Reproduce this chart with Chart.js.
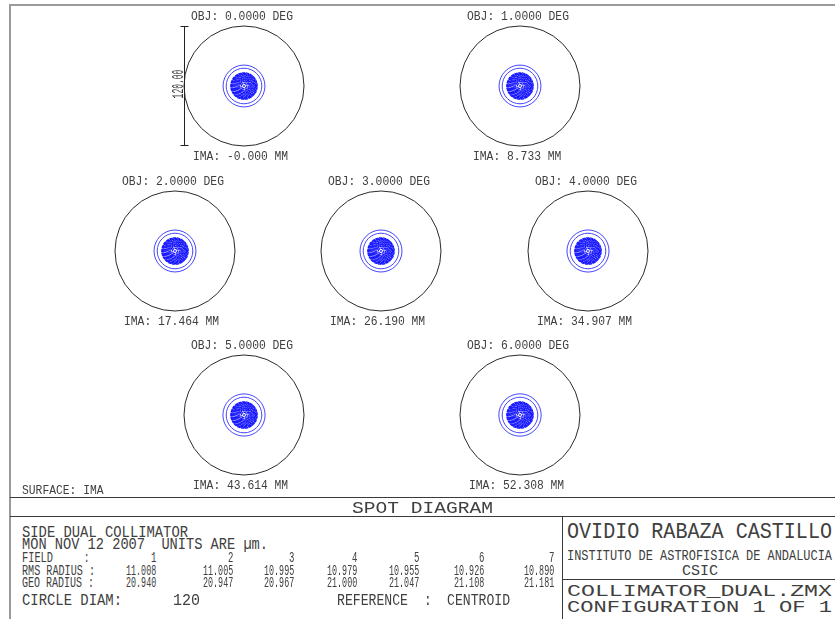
<!DOCTYPE html>
<html>
<head>
<meta charset="utf-8">
<title>Spot Diagram</title>
<script src="https://cdn.jsdelivr.net/npm/chart.js@4.4.1/dist/chart.umd.min.js"></script>
<style>
  html, body { margin: 0; padding: 0; background: #fff; }
  #sheet { position: relative; width: 835px; height: 619px; overflow: hidden; background: #fff; }
  .rule { position: absolute; background: #3a3a3a; }
  .frame { position: absolute; background: #9a9a9a; }
  .txt { position: absolute; white-space: pre; line-height: 1; color: #404040;
         font-family: "Liberation Mono", "DejaVu Sans Mono", monospace; transform-origin: 0 0; }
  canvas.spot { position: absolute; }
</style>
</head>
<body>
<div id="sheet"></div>
<script>
// ---- field data ----
const fieldNumbers = [1, 2, 3, 4, 5, 6, 7];
const fieldAngles  = [0, 1, 2, 3, 4, 5, 6];                                   // OBJ, degrees
const imageHeights = ['-0.000', '8.733', '17.464', '26.190', '34.907', '43.614', '52.308']; // IMA, mm
const rmsRadius    = [11.008, 11.005, 10.995, 10.979, 10.955, 10.926, 10.890]; // µm
const geoRadius    = [20.940, 20.947, 20.967, 21.000, 21.047, 21.108, 21.181]; // µm
const circleDiam   = 120;                                                       // µm

// image-plane radii (µm) of the traced pupil zones, centre outwards
const centreZone   = 0.9;
const denseZones   = [2.6, 4.3, 5.3, 6.3, 7.2, 8.1, 9.0, 9.9, 10.8, 11.7, 12.5, 13.2];
const marginalZone = 17.8;

// ---- page layout (pixels) ----
const layout = {
  box: 160,                                   // canvas size per spot panel, ±80 µm
  centers: [[244, 86], [520, 86], [175, 251], [381, 251], [588, 251], [244, 415], [520, 415]],
  objDy: -70, imaDy: 70,
  colRight: [156, 233, 294, 357, 419, 484, 554],
  rows: { field: 557.5, rms: 570.5, geo: 582.5, circle: 600 }
};

const sheet = document.getElementById('sheet');

function rule(cls, x, y, w, h) {
  const d = document.createElement('div');
  d.className = cls;
  Object.assign(d.style, { left: x + 'px', top: y + 'px', width: w + 'px', height: h + 'px' });
  sheet.appendChild(d);
}

// text placed by cap-centre y; optionally stretched to a given width
function put(text, o) {
  const el = document.createElement('div');
  el.className = 'txt';
  el.textContent = text;
  el.style.fontSize = o.size + 'px';
  sheet.appendChild(el);
  const w = el.getBoundingClientRect().width;
  const sx = o.width ? o.width / w : (o.sx || 1);
  const vw = w * sx;
  let left = o.x;
  if (o.align === 'center') left = o.x - vw / 2;
  else if (o.align === 'right') left = o.x - vw;
  el.style.left = left + 'px';
  el.style.top = (o.y - o.size * 0.44) + 'px';
  el.style.transform = 'scaleX(' + sx + ')';
}

// ---- frame and title block rules ----
rule('frame', 9, 4, 826, 2);
rule('frame', 9, 4, 2, 615);
rule('rule', 10, 497, 825, 1);
rule('rule', 10, 516, 825, 1);
rule('rule', 562, 516, 1, 103);
rule('rule', 562, 579, 273, 1);

// ---- spot panels ----
// per-dataset dash pattern, so ray dots along a zone show as a broken ring
const dashPlugin = {
  id: 'zoneDash',
  beforeDatasetDraw(chart, args) {
    const ds = chart.data.datasets[args.index];
    chart.ctx.save();
    chart.ctx.setLineDash(ds.dash || []);
    chart.ctx.lineDashOffset = ds.dashOffset || 0;
  },
  afterDatasetDraw(chart) { chart.ctx.restore(); }
};

const scaleBarPlugin = {
  id: 'scaleBar',
  afterDraw(chart) {
    const { ctx, scales: { x, y } } = chart;
    const h = circleDiam / 2;
    const bx = Math.round(x.getPixelForValue(-h)) + 0.5;
    const y0 = y.getPixelForValue(h), y1 = y.getPixelForValue(-h);
    ctx.save();
    ctx.strokeStyle = '#222';
    ctx.lineWidth = 1;
    ctx.beginPath();
    ctx.moveTo(bx, y0); ctx.lineTo(bx, y1);
    ctx.moveTo(bx - 4, Math.round(y0) + 0.5); ctx.lineTo(bx + 4, Math.round(y0) + 0.5);
    ctx.moveTo(bx - 4, Math.round(y1) - 0.5); ctx.lineTo(bx + 4, Math.round(y1) - 0.5);
    ctx.stroke();
    ctx.translate(bx - 1.5, (y0 + y1) / 2 - 2);
    ctx.rotate(-Math.PI / 2);
    ctx.scale(0.5, 1);
    ctx.fillStyle = '#333';
    ctx.font = '16px "Liberation Mono", monospace';
    ctx.textAlign = 'center';
    ctx.textBaseline = 'alphabetic';
    ctx.fillText(circleDiam.toFixed(2), 0, 0);
    ctx.restore();
  }
};

function zonePx(ctx) {
  const s = ctx.chart.scales.x;
  return Math.abs(s.getPixelForValue(ctx.raw.rUm) - s.getPixelForValue(0));
}
const zone = r => ({ x: 0, y: 0, rUm: r });

function spotPanel(i) {
  const [cx, cy] = layout.centers[i];
  const half = layout.box / 2;
  const c = document.createElement('canvas');
  c.className = 'spot';
  c.width = layout.box; c.height = layout.box;
  c.style.left = (cx - half) + 'px';
  c.style.top = (cy - half) + 'px';
  sheet.appendChild(c);

  const datasets = [
    { label: 'centre', data: [zone(centreZone)], pointBackgroundColor: '#1c1cff', pointBorderWidth: 0 }
  ];
  denseZones.forEach((r, j) => datasets.push({
    label: 'zone ' + (j + 1), data: [zone(r)], pointBorderColor: '#1616ff',
    pointBorderWidth: 1.25, dash: [3.4, 0.55], dashOffset: (j * 1.37) % 3.9
  }));
  datasets.push({ label: 'marginal', data: [zone(marginalZone), zone(geoRadius[i])],
                  pointBorderColor: '#4646ff', pointBorderWidth: 1 });
  datasets.push({ label: 'reference circle', data: [zone(circleDiam / 2)],
                  pointBorderColor: '#2a2a2a', pointBorderWidth: 1 });

  new Chart(c, {
    type: 'scatter',
    data: { datasets },
    options: {
      responsive: false,
      animation: false,
      events: [],
      layout: { padding: 0 },
      elements: { point: { radius: zonePx, backgroundColor: 'rgba(0,0,0,0)', hoverRadius: zonePx } },
      scales: {
        x: { type: 'linear', min: -half, max: half, display: false },
        y: { type: 'linear', min: -half, max: half, display: false }
      },
      plugins: { legend: { display: false }, tooltip: { enabled: false } }
    },
    plugins: i === 0 ? [dashPlugin, scaleBarPlugin] : [dashPlugin]
  });

  put('OBJ: ' + fieldAngles[i].toFixed(4) + ' DEG', { x: cx - 2, y: cy + layout.objDy, size: 12, sx: 0.944, align: 'center' });
  put('IMA: ' + imageHeights[i] + ' MM', { x: cx - 3, y: cy + layout.imaDy, size: 12, sx: 0.944, align: 'center' });
}

fieldNumbers.forEach((_, i) => spotPanel(i));

// ---- title block ----
put('SURFACE: IMA', { x: 22, y: 490, size: 12, sx: 0.944 });
put('SPOT DIAGRAM', { x: 422, y: 507, size: 17, width: 141, align: 'center' });

put('SIDE DUAL COLLIMATOR', { x: 22, y: 532, size: 16, width: 166 });
put('MON NOV 12 2007  UNITS ARE µm.', { x: 22, y: 544.5, size: 16, width: 246 });

put('FIELD', { x: 22, y: layout.rows.field, size: 15, width: 31 });
put(':', { x: 87, y: layout.rows.field, size: 15, sx: 0.6, align: 'center' });
put('RMS RADIUS :', { x: 22, y: layout.rows.rms, size: 15, width: 73 });
put('GEO RADIUS :', { x: 22, y: layout.rows.geo, size: 15, width: 72 });

fieldNumbers.forEach((n, j) => {
  const xr = layout.colRight[j];
  put(String(n), { x: xr, y: layout.rows.field, size: 15, sx: 0.6, align: 'right' });
  put(rmsRadius[j].toFixed(3), { x: xr, y: layout.rows.rms, size: 15, sx: 0.56, align: 'right' });
  put(geoRadius[j].toFixed(3), { x: xr, y: layout.rows.geo, size: 15, sx: 0.56, align: 'right' });
});

put('CIRCLE DIAM:', { x: 22, y: layout.rows.circle, size: 16, width: 100 });
put(String(circleDiam), { x: 200, y: layout.rows.circle, size: 16, width: 27, align: 'right' });
put('REFERENCE', { x: 337, y: layout.rows.circle, size: 16, width: 71 });
put(':', { x: 428, y: layout.rows.circle, size: 16, sx: 0.8, align: 'center' });
put('CENTROID', { x: 447, y: layout.rows.circle, size: 16, width: 63 });

put('OVIDIO RABAZA CASTILLO', { x: 567, y: 532, size: 22, width: 265 });
put('INSTITUTO DE ASTROFISICA DE ANDALUCIA', { x: 567, y: 555, size: 14, width: 265 });
put('CSIC', { x: 700, y: 571, size: 15, width: 36, align: 'center' });
put('COLLIMATOR_DUAL.ZMX', { x: 567, y: 590.5, size: 17, width: 265 });
put('CONFIGURATION 1 OF 1', { x: 567, y: 606, size: 17, width: 265 });
</script>
</body>
</html>
